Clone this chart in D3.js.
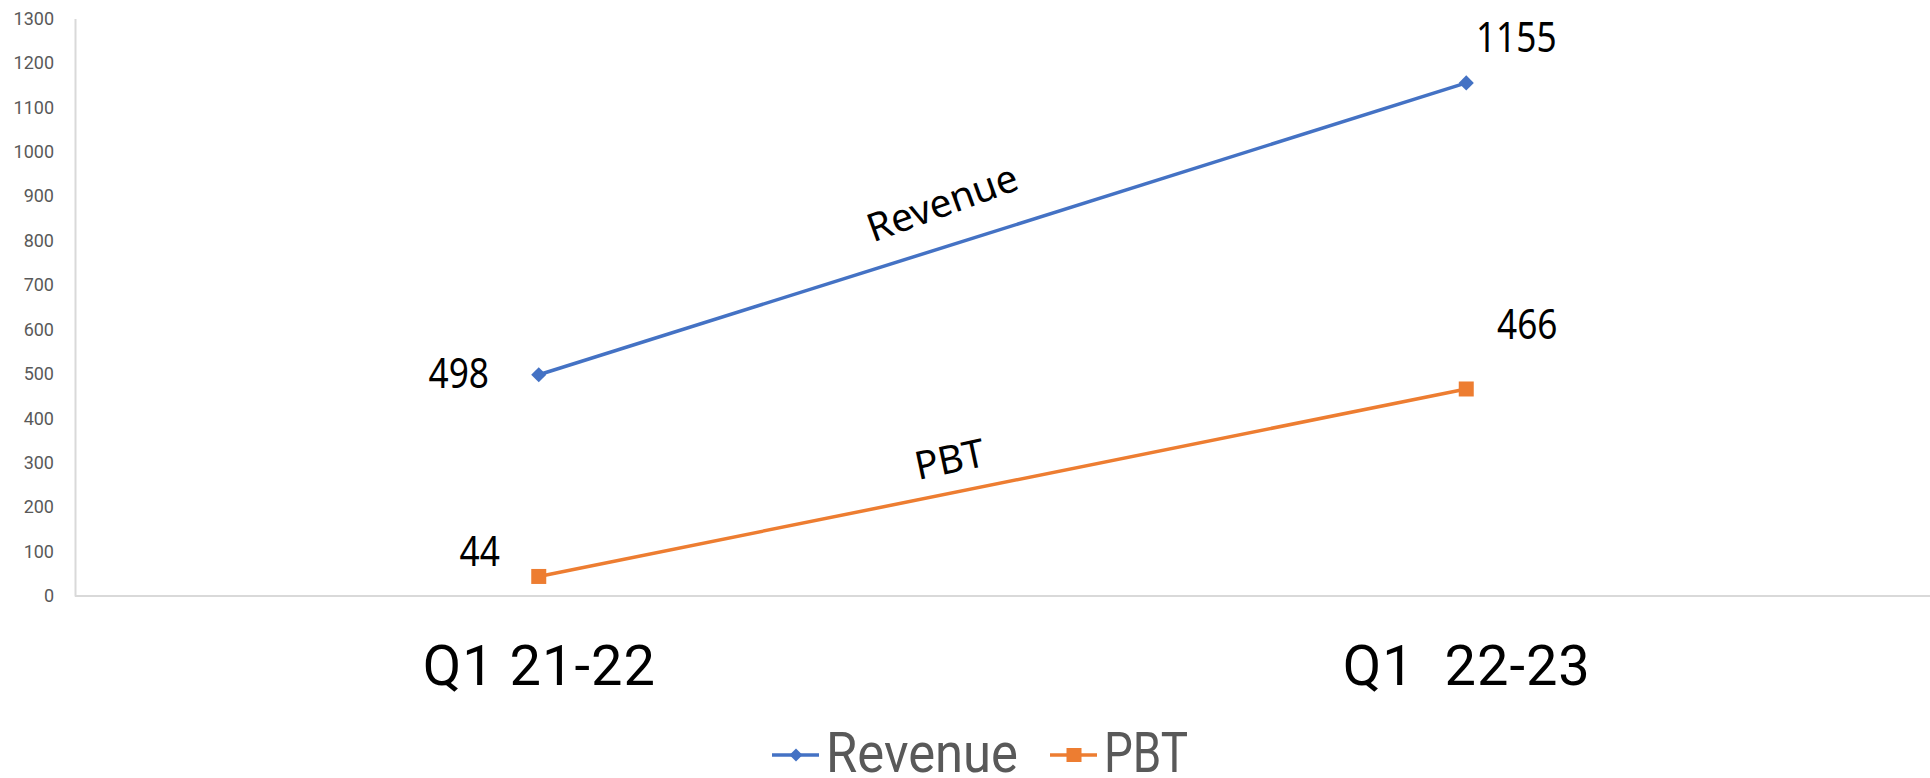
<!DOCTYPE html>
<html>
<head>
<meta charset="utf-8">
<script src="https://cdn.jsdelivr.net/npm/d3@7"></script>
<style>
  body { margin: 0; background: #fff; }
  svg { display: block; }
</style>
</head>
<body>
<div id="chart"></div>
<script>
// data
const categories = ["Q1 21-22", "Q1  22-23"];
const seriesNames = ["Revenue", "PBT"];
const revenue = [498, 1155];
const pbt = [44, 466];
const yTicks = [0, 100, 200, 300, 400, 500, 600, 700, 800, 900, 1000, 1100, 1200, 1300];

const colors = { Revenue: "#4472C4", PBT: "#ED7D31" };

let w = 1930, h = 778;
let margin = { left: 75, right: 0, top: 18.5, bottom: 182 };

let svg = d3.select("#chart").append("svg")
    .attr("width", w)
    .attr("height", h);

// scales
let x = d3.scalePoint()
    .domain(categories)
    .range([margin.left, w - margin.right])
    .padding(0.5);

let y = d3.scaleLinear()
    .domain([0, 1300])
    .range([h - margin.bottom, margin.top]);

// y axis (labels only, plus the light axis line)
let yAxis = svg.append("g")
    .attr("transform", `translate(${margin.left},0)`)
    .call(d3.axisLeft(y).tickValues(yTicks).tickFormat(d3.format("d"))
        .tickSize(0).tickSizeOuter(0).tickPadding(21));
yAxis.select(".domain").attr("stroke", "#d9d9d9").attr("stroke-width", 2);
yAxis.selectAll("text")
    .attr("font-family", "Roboto")
    .attr("font-size", 18)
    .attr("fill", "#595959");

// x axis
let xAxis = svg.append("g")
    .attr("transform", `translate(0,${y(0)})`)
    .call(d3.axisBottom(x).tickSize(0).tickSizeOuter(0).tickPadding(50));
xAxis.select(".domain")
    .attr("d", `M${margin.left},0H${w}`)
    .attr("stroke", "#d9d9d9").attr("stroke-width", 2);
xAxis.selectAll("text")
    .attr("font-family", "Roboto")
    .attr("font-size", 56)
    .attr("fill", "#000")
    .attr("dy", "0.7em")
    .attr("letter-spacing", 1)
    .style("white-space", "pre");

let series = [
    { name: "Revenue", values: revenue, symbol: "diamond" },
    { name: "PBT", values: pbt, symbol: "square" }
];

let line = d3.line()
    .x((d, i) => x(categories[i]))
    .y(d => y(d));

function marker(g, type, color) {
    if (type === "diamond") {
        g.append("path")
            .attr("d", d3.symbol(d3.symbolSquare, 115)())
            .attr("transform", "rotate(45)")
            .attr("fill", color);
    } else {
        g.append("rect")
            .attr("x", -7.5).attr("y", -7.5)
            .attr("width", 15).attr("height", 15)
            .attr("fill", color);
    }
}

series.forEach(s => {
    svg.append("path")
        .datum(s.values)
        .attr("fill", "none")
        .attr("stroke", colors[s.name])
        .attr("stroke-width", 3.5)
        .attr("d", line);
    s.values.forEach((v, i) => {
        let g = svg.append("g")
            .attr("transform", `translate(${x(categories[i])},${y(v)})`);
        marker(g, s.symbol, colors[s.name]);
    });
});

// data labels, placed by hand like in the original
let labelOffsets = {
    Revenue: [[-80, -1.5], [50, -46]],
    PBT: [[-59, -25], [61, -65]]
};
series.forEach(s => {
    s.values.forEach((v, i) => {
        let off = labelOffsets[s.name][i];
        svg.append("text")
            .attr("transform", `translate(${x(categories[i]) + off[0]},${y(v) + off[1]}) scale(0.86,1)`)
            .attr("text-anchor", "middle")
            .attr("dy", "0.357em")
            .attr("font-family", "Noto Sans")
            .attr("font-size", 41)
            .attr("fill", "#000")
            .text(v);
    });
});

// series names written along the lines
let along = [
    { name: "Revenue", t: 0.435, off: -45, angle: -20 },
    { name: "PBT", t: 0.443, off: -34, angle: -12 }
];
along.forEach(a => {
    let s = series.find(d => d.name === a.name);
    let x0 = x(categories[0]), x1 = x(categories[1]);
    let px = x0 + (x1 - x0) * a.t;
    let py = y(s.values[0]) + (y(s.values[1]) - y(s.values[0])) * a.t;
    svg.append("text")
        .attr("transform", `translate(${px},${py + a.off}) rotate(${a.angle})`)
        .attr("text-anchor", "middle")
        .attr("dy", "0.35em")
        .attr("font-family", "Noto Sans")
        .attr("font-size", 39)
        .attr("fill", "#000")
        .text(a.name);
});

// legend
let legend = svg.append("g").attr("transform", `translate(0,755)`);
let legendItems = [
    { name: "Revenue", x: 772, textW: 192, symbol: "diamond" },
    { name: "PBT", x: 1050, textW: 84, symbol: "square" }
];
legendItems.forEach(it => {
    legend.append("line")
        .attr("x1", it.x).attr("x2", it.x + 47)
        .attr("stroke", colors[it.name])
        .attr("stroke-width", 3.5);
    let g = legend.append("g").attr("transform", `translate(${it.x + 24},0)`);
    if (it.symbol === "diamond") {
        g.append("path")
            .attr("d", d3.symbol(d3.symbolSquare, 85)())
            .attr("transform", "rotate(45)")
            .attr("fill", colors[it.name]);
    } else {
        g.append("rect")
            .attr("x", -7.5).attr("y", -7).attr("width", 15).attr("height", 14)
            .attr("fill", colors[it.name]);
    }
    legend.append("text")
        .attr("x", it.x + 54)
        .attr("y", 17)
        .attr("font-family", "Roboto")
        .attr("font-size", 56)
        .attr("fill", "#595959")
        .attr("textLength", it.textW)
        .attr("lengthAdjust", "spacingAndGlyphs")
        .text(it.name);
});
</script>
</body>
</html>
